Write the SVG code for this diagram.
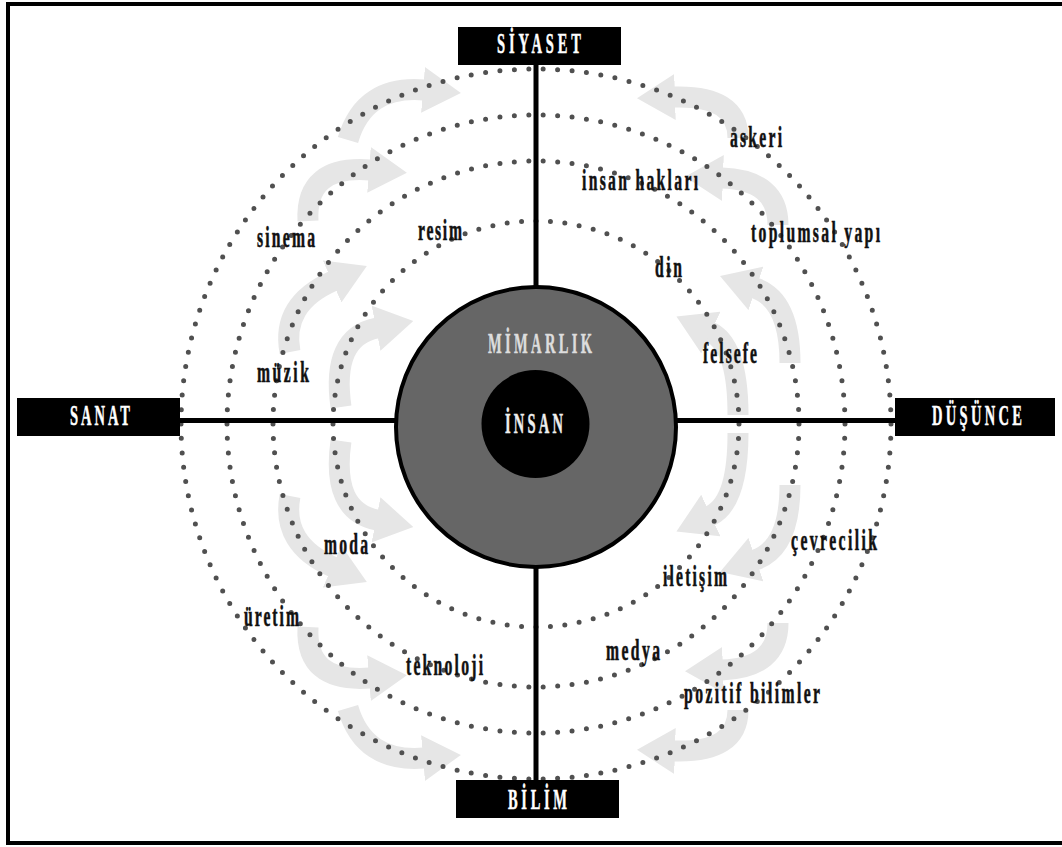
<svg xmlns="http://www.w3.org/2000/svg" width="1062" height="847" viewBox="0 0 1062 847">
<style>
.dots{fill:none;stroke:#505050;stroke-width:5;stroke-linecap:round;stroke-dasharray:0 1}
.arr{fill:none;stroke:#e6e6e6;stroke-width:21;marker-end:url(#ah)}
.axis{stroke:#000;stroke-width:5;fill:none}
.box{fill:#000}
.cap{font-family:"Liberation Serif","Times New Roman",serif;font-weight:bold;font-size:29px;fill:#fff;stroke:#fff;stroke-width:0.5;text-anchor:middle}
.lb{font-family:"Liberation Serif","Times New Roman",serif;font-weight:bold;font-size:29px;fill:#111;stroke:#111;stroke-width:0.6}
</style>
<defs>
<marker id="ah" markerUnits="userSpaceOnUse" markerWidth="38" markerHeight="46" viewBox="0 0 38 46" refX="1" refY="23" orient="auto">
<path d="M0,0 L38,23 L0,46 z" fill="#e6e6e6"/>
</marker>
</defs>
<rect x="8" y="4" width="1070" height="839" fill="#fff" stroke="#000" stroke-width="4"/>

<g id="flow-arrows">
<g id="arrows-top">
<path class="arr" d="M348,140 Q364,85 424,90"/>
<path class="arr" d="M308,221 Q305,165 370,170"/>
<path class="arr" d="M290,352 Q281,304 333,281"/>
<path class="arr" d="M341,407 Q331,337 377,328"/>
<path class="arr" d="M738,138 Q738,95 674,97"/>
<path class="arr" d="M778,225 Q778,180 722,178"/>
<path class="arr" d="M790,363 Q790,300 755,288"/>
<path class="arr" d="M738,415 Q738,345 710,332"/>
</g>
<g id="arrows-bottom" transform="translate(0,848) scale(1,-1)">
<path class="arr" d="M348,140 Q364,85 424,90"/>
<path class="arr" d="M308,221 Q305,165 370,170"/>
<path class="arr" d="M290,352 Q281,304 333,281"/>
<path class="arr" d="M341,407 Q331,337 377,328"/>
<path class="arr" d="M738,138 Q738,95 674,97"/>
<path class="arr" d="M778,225 Q778,180 722,178"/>
<path class="arr" d="M790,363 Q790,300 755,288"/>
<path class="arr" d="M738,415 Q738,345 710,332"/>
</g>
</g>

<g id="rings">
<circle class="dots" cx="536" cy="424" r="355" pathLength="154"/>
<circle class="dots" cx="536" cy="424" r="309" pathLength="134"/>
<circle class="dots" cx="536" cy="424" r="263" pathLength="114"/>
<circle class="dots" cx="536" cy="424" r="203" pathLength="88"/>
</g>

<g id="connectors">
<line class="axis" x1="536" y1="64" x2="536" y2="781"/>
<line class="axis" x1="179" y1="420.5" x2="896" y2="420.5"/>
</g>

<g id="mimarlik">
<circle cx="536" cy="427" r="140" fill="#666" stroke="#000" stroke-width="4"/>
<text class="cap" style="fill:#ddd;stroke:#ddd" transform="translate(540,353) scale(0.5,1)" textLength="208">MİMARLIK</text>
</g>
<g id="insan">
<circle cx="535.5" cy="424" r="54" fill="#000"/>
<text class="cap" style="fill:#eee;stroke:#eee" transform="translate(534,433) scale(0.5,1)" textLength="116">İNSAN</text>
</g>

<g id="siyaset">
<rect class="box" x="458" y="27" width="163" height="38"/>
<text class="cap" transform="translate(539,53) scale(0.5,1)" textLength="168">SİYASET</text>
</g>
<g id="sanat">
<rect class="box" x="17" y="398" width="163" height="38"/>
<text class="cap" transform="translate(100,425) scale(0.5,1)" textLength="120">SANAT</text>
</g>
<g id="dusunce">
<rect class="box" x="895" y="398" width="160" height="38"/>
<text class="cap" transform="translate(977,425) scale(0.5,1)" textLength="180">DÜŞÜNCE</text>
</g>
<g id="bilim">
<rect class="box" x="456" y="780" width="163" height="38"/>
<text class="cap" transform="translate(537.5,809) scale(0.5,1)" textLength="118">BİLİM</text>
</g>

<g id="labels">
<text id="askeri" class="lb" transform="translate(730,147) scale(0.54,1)" textLength="96.3">askeri</text>
<text id="insan-haklari" class="lb" transform="translate(582,190) scale(0.54,1)" textLength="214.8">insan hakları</text>
<text id="toplumsal-yapi" class="lb" transform="translate(751,242) scale(0.54,1)" textLength="238.9">toplumsal yapı</text>
<text id="din" class="lb" transform="translate(655,277) scale(0.54,1)" textLength="50">din</text>
<text id="felsefe" class="lb" transform="translate(703,363) scale(0.54,1)" textLength="100">felsefe</text>
<text id="sinema" class="lb" transform="translate(257,247) scale(0.54,1)" textLength="107.4">sinema</text>
<text id="resim" class="lb" transform="translate(418,240) scale(0.54,1)" textLength="81.5">resim</text>
<text id="muzik" class="lb" transform="translate(257,382) scale(0.54,1)" textLength="96.3">müzik</text>
<text id="moda" class="lb" transform="translate(324,554) scale(0.54,1)" textLength="81.5">moda</text>
<text id="uretim" class="lb" transform="translate(244,626) scale(0.54,1)" textLength="101.9">üretim</text>
<text id="teknoloji" class="lb" transform="translate(406,675) scale(0.54,1)" textLength="142.6">teknoloji</text>
<text id="cevrecilik" class="lb" transform="translate(791,550) scale(0.54,1)" textLength="159.3">çevrecilik</text>
<text id="iletisim" class="lb" transform="translate(663,586) scale(0.54,1)" textLength="118.5">iletişim</text>
<text id="medya" class="lb" transform="translate(606,660) scale(0.54,1)" textLength="100">medya</text>
<text id="pozitif-bilimler" class="lb" transform="translate(684,703) scale(0.54,1)" textLength="251.9">pozitif bilimler</text>
</g>
</svg>
